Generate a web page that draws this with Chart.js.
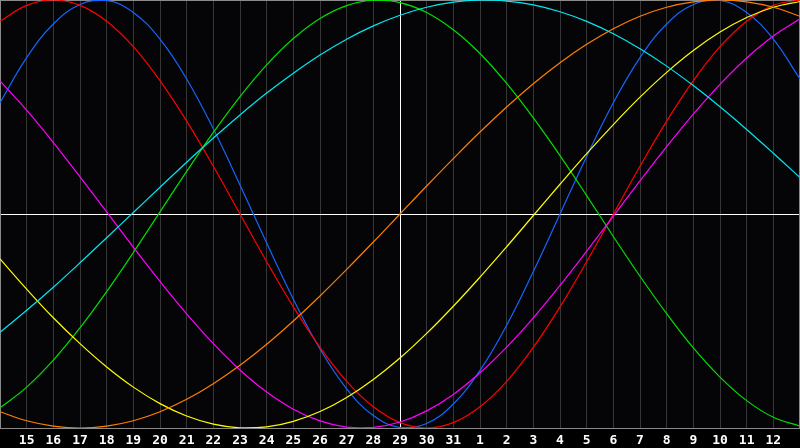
<!DOCTYPE html>
<html>
<head>
<meta charset="utf-8">
<title>Biorhythm</title>
<script src="https://cdn.jsdelivr.net/npm/chart.js@4.4.1/dist/chart.umd.min.js"></script>
<style>
  html, body { margin: 0; padding: 0; background: #000; }
  canvas { display: block; }
</style>
</head>
<body>
<canvas id="bio" width="800" height="448"></canvas>
<script>
// days shown along the bottom (first and last have no label)
var days = [14,15,16,17,18,19,20,21,22,23,24,25,26,27,28,29,30,31,1,2,3,4,5,6,7,8,9,10,11,12,13];
var todayIndex = 15;

// cycle values, one per day
var physical = [0.520,0.731,0.888,0.979,0.998,0.942,0.817,0.631,0.398,0.136,-0.136,-0.398,-0.631,-0.817,-0.942,-0.998,-0.979,-0.888,-0.731,-0.520,-0.269,0.000,0.269,0.520,0.731,0.888,0.979,0.998,0.942,0.817,0.631];
var emotional = [0.901,0.975,1.000,0.975,0.901,0.782,0.623,0.434,0.223,0.000,-0.223,-0.434,-0.623,-0.782,-0.901,-0.975,-1.000,-0.975,-0.901,-0.782,-0.623,-0.434,-0.223,0.000,0.223,0.434,0.623,0.782,0.901,0.975,1.000];
var intellectual = [-0.906,-0.809,-0.683,-0.532,-0.363,-0.180,0.010,0.199,0.381,0.549,0.697,0.820,0.914,0.974,0.999,0.988,0.942,0.861,0.750,0.610,0.449,0.273,0.086,-0.105,-0.291,-0.466,-0.626,-0.762,-0.872,-0.950,-0.991];
var intuitive = [0.622,0.485,0.334,0.174,0.010,-0.155,-0.315,-0.467,-0.606,-0.729,-0.832,-0.912,-0.967,-0.996,-0.997,-0.972,-0.920,-0.843,-0.742,-0.622,-0.485,-0.334,-0.174,-0.010,0.155,0.315,0.467,0.606,0.729,0.832,0.912];
var aesthetic = [-0.210,-0.351,-0.485,-0.606,-0.715,-0.809,-0.886,-0.944,-0.982,-0.999,-0.995,-0.969,-0.923,-0.857,-0.773,-0.673,-0.558,-0.431,-0.295,-0.153,-0.007,0.139,0.282,0.418,0.546,0.662,0.764,0.850,0.918,0.966,0.993];
var awareness = [-0.924,-0.966,-0.991,-1.000,-0.991,-0.966,-0.924,-0.866,-0.793,-0.707,-0.609,-0.500,-0.383,-0.259,-0.131,0.000,0.131,0.259,0.383,0.500,0.609,0.707,0.793,0.866,0.924,0.966,0.991,1.000,0.991,0.966,0.924];
var spiritual = [-0.553,-0.450,-0.342,-0.228,-0.111,0.007,0.125,0.242,0.355,0.463,0.565,0.658,0.743,0.817,0.879,0.929,0.966,0.990,1.000,0.995,0.977,0.945,0.900,0.842,0.772,0.691,0.600,0.501,0.395,0.284,0.170];

function line(label, values, color) {
  return {
    label: label,
    data: values,
    borderColor: color,
    borderWidth: 1.2,
    pointRadius: 0,
    pointHoverRadius: 0,
    tension: 0.4,
    fill: false
  };
}

// dark plot area, frame and the two white cross lines
var frame = {
  id: 'frame',
  beforeDraw: function(chart) {
    var c = chart.ctx, a = chart.chartArea;
    c.save();
    c.fillStyle = '#000';
    c.fillRect(0, 0, chart.width, chart.height);
    c.fillStyle = '#050508';
    c.fillRect(a.left, a.top, a.right - a.left, a.bottom - a.top);
    c.restore();
  },
  beforeDatasetsDraw: function(chart) {
    var c = chart.ctx, a = chart.chartArea;
    var x0 = Math.round(chart.scales.x.getPixelForValue(todayIndex)) + 0.5;
    var y0 = Math.round(chart.scales.y.getPixelForValue(0)) + 0.5;
    c.save();
    c.strokeStyle = '#ffffff';
    c.lineWidth = 1;
    c.beginPath();
    c.moveTo(x0, a.top); c.lineTo(x0, a.bottom);
    c.moveTo(a.left, y0); c.lineTo(a.right, y0);
    c.stroke();
    c.strokeStyle = '#8a8a8a';
    c.strokeRect(a.left + 0.5, a.top + 0.5, a.right - a.left - 1, a.bottom - a.top);
    c.restore();
  }
};

var config = {
  type: 'line',
  data: {
    labels: days,
    datasets: [
      line('Spiritual', spiritual, '#00e8f0'),
      line('Awareness', awareness, '#ff7f00'),
      line('Aesthetic', aesthetic, '#ffff00'),
      line('Intuitive', intuitive, '#ff00ff'),
      line('Intellectual', intellectual, '#00e000'),
      line('Emotional', emotional, '#ff0000'),
      line('Physical', physical, '#1466ff')
    ]
  },
  options: {
    responsive: false,
    devicePixelRatio: 1,
    animation: false,
    layout: { padding: 0, autoPadding: false },
    plugins: {
      legend: { display: false },
      tooltip: { enabled: false }
    },
    scales: {
      x: {
        type: 'category',
        offset: false,
        border: { display: false },
        grid: { color: '#363636', lineWidth: 1, drawTicks: true, tickLength: 5, tickColor: 'rgba(0,0,0,0)' },
        ticks: {
          color: '#ffffff',
          font: { family: 'DejaVu Sans Mono', size: 13, weight: 'bold' },
          padding: 0,
          autoSkip: false,
          maxRotation: 0,
          callback: function(v, i) {
            return (i === 0 || i === days.length - 1) ? '' : String(days[i]);
          }
        },
        afterFit: function(scale) { scale.height = 20; }
      },
      y: {
        display: false,
        min: -1,
        max: 1
      }
    }
  },
  plugins: [frame]
};

window.onload = function() {
  var ctx = document.getElementById('bio').getContext('2d');
  window.bioChart = new Chart(ctx, config);
};
</script>
</body>
</html>
